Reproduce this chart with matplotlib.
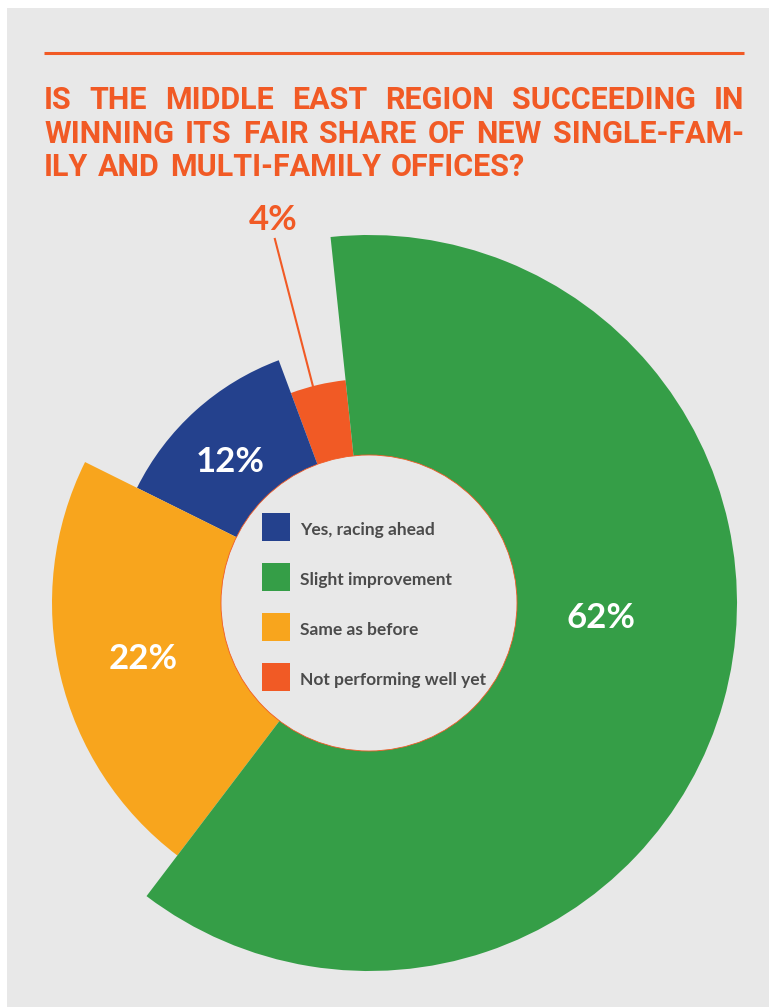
import matplotlib
matplotlib.use('Agg')
import matplotlib.pyplot as plt
import numpy as np
from matplotlib import font_manager
from matplotlib.patches import Wedge, Circle, Rectangle

W, H = 769, 1007

# ---- data -------------------------------------------------------------
categories = ['Yes, racing ahead', 'Slight improvement',
              'Same as before', 'Not performing well yet']
shares = [12, 62, 22, 4]
pct_labels = ['12%', '62%', '22%', '4%']
title_lines = ['IS THE MIDDLE EAST REGION SUCCEEDING IN',
               'WINNING ITS FAIR SHARE OF NEW SINGLE-FAM-',
               'ILY AND MULTI-FAMILY OFFICES?']

# ---- style ------------------------------------------------------------
colors = ['#24418d', '#359e47', '#f8a51d', '#f15a25']
bg = '#e8e8e8'
orange = '#f15a25'
text_grey = '#4b4b4b'
outer_r = [259, 368, 317, 224]
draw_order = [3, 0, 2, 1]          # counter-clockwise from start angle
start_angle = 96
inner_r = 148
cx, cy = 369, H - 603
# label placement: (angle offset from wedge middle, radius)
label_place = [(2.6, 198), (11.9, 232), (0.7, 233), (0.9, 395)]


def pick(fams):
    for f in fams:
        try:
            font_manager.findfont(f, fallback_to_default=False)
            return f
        except ValueError:
            pass
    return 'DejaVu Sans'


title_font = pick(['Roboto', 'Liberation Sans'])
label_font = pick(['Lato', 'Roboto', 'DejaVu Sans'])

fig = plt.figure(figsize=(W / 100, H / 100), dpi=100)
fig.patch.set_facecolor('white')
ax = fig.add_axes([0, 0, 1, 1])
ax.set_xlim(0, W)
ax.set_ylim(0, H)
ax.axis('off')

ax.add_patch(Rectangle((7, 0), W - 7, H - 8, facecolor=bg, edgecolor='none'))

# top rule
ax.plot([44, 744], [H - 53, H - 53], color=orange, lw=2.2, solid_capstyle='butt')

# ---- title, justified -------------------------------------------------
renderer = fig.canvas.get_renderer()
x0, x1 = 44, 744
baselines = [109, 143, 176]
min_gap = 8


def measure(size):
    out = []
    for line in title_lines:
        ws = []
        for w in line.split(' '):
            t = ax.text(0, 0, w, fontsize=size, fontweight='bold',
                        family=title_font)
            ws.append(t.get_window_extent(renderer).width)
            t.remove()
        out.append(ws)
    return out


fsize = 22.0
widths = measure(fsize)
while any(sum(ws) + min_gap * (len(ws) - 1) > x1 - x0 for ws in widths[:-1]):
    fsize -= 0.25
    widths = measure(fsize)

for li, line in enumerate(title_lines):
    words = line.split(' ')
    ws = widths[li]
    if li < len(title_lines) - 1:
        gap = (x1 - x0 - sum(ws)) / (len(words) - 1)
    else:
        gap = min_gap + 2
    x = x0
    for w, wd in zip(words, ws):
        ax.text(x, H - baselines[li], w, fontsize=fsize, color=orange,
                fontweight='bold', family=title_font, va='baseline', ha='left')
        x += wd + gap

# ---- variable-radius donut --------------------------------------------
theta = start_angle
spans = {}
for i in draw_order:
    span = shares[i] / sum(shares) * 360
    spans[i] = (theta, theta + span)
    ax.add_patch(Wedge((cx, cy), outer_r[i], theta, theta + span,
                       facecolor=colors[i], edgecolor='none'))
    theta += span

ax.add_patch(Circle((cx, cy), inner_r, facecolor=bg, edgecolor=orange, lw=0.6))

for i, lab in enumerate(pct_labels):
    mid = np.mean(spans[i]) + label_place[i][0]
    r = label_place[i][1]
    x = cx + r * np.cos(np.radians(mid))
    y = cy + r * np.sin(np.radians(mid))
    outside = r > outer_r[i]
    ax.text(x, y, lab, fontsize=25, fontweight='bold', family=label_font,
            color=colors[i] if outside else 'white', ha='center', va='center')
    if outside:
        a = np.radians(mid + 0.4)
        ax.plot([cx + 376 * np.cos(a), cx + outer_r[i] * np.cos(a)],
                [cy + 376 * np.sin(a), cy + outer_r[i] * np.sin(a)],
                color=colors[i], lw=1.5)

# ---- legend inside the hole -------------------------------------------
for k, (name, col) in enumerate(zip(categories, colors)):
    top = 513 + 50 * k
    ax.add_patch(Rectangle((262, H - top - 28), 28, 28, facecolor=col,
                           edgecolor='none'))
    ax.text(300, H - top - 22, name, fontsize=12.5, fontweight='bold',
            family=label_font, color=text_grey, va='baseline', ha='left')

fig.savefig('out.png', dpi=100, facecolor=fig.get_facecolor())
